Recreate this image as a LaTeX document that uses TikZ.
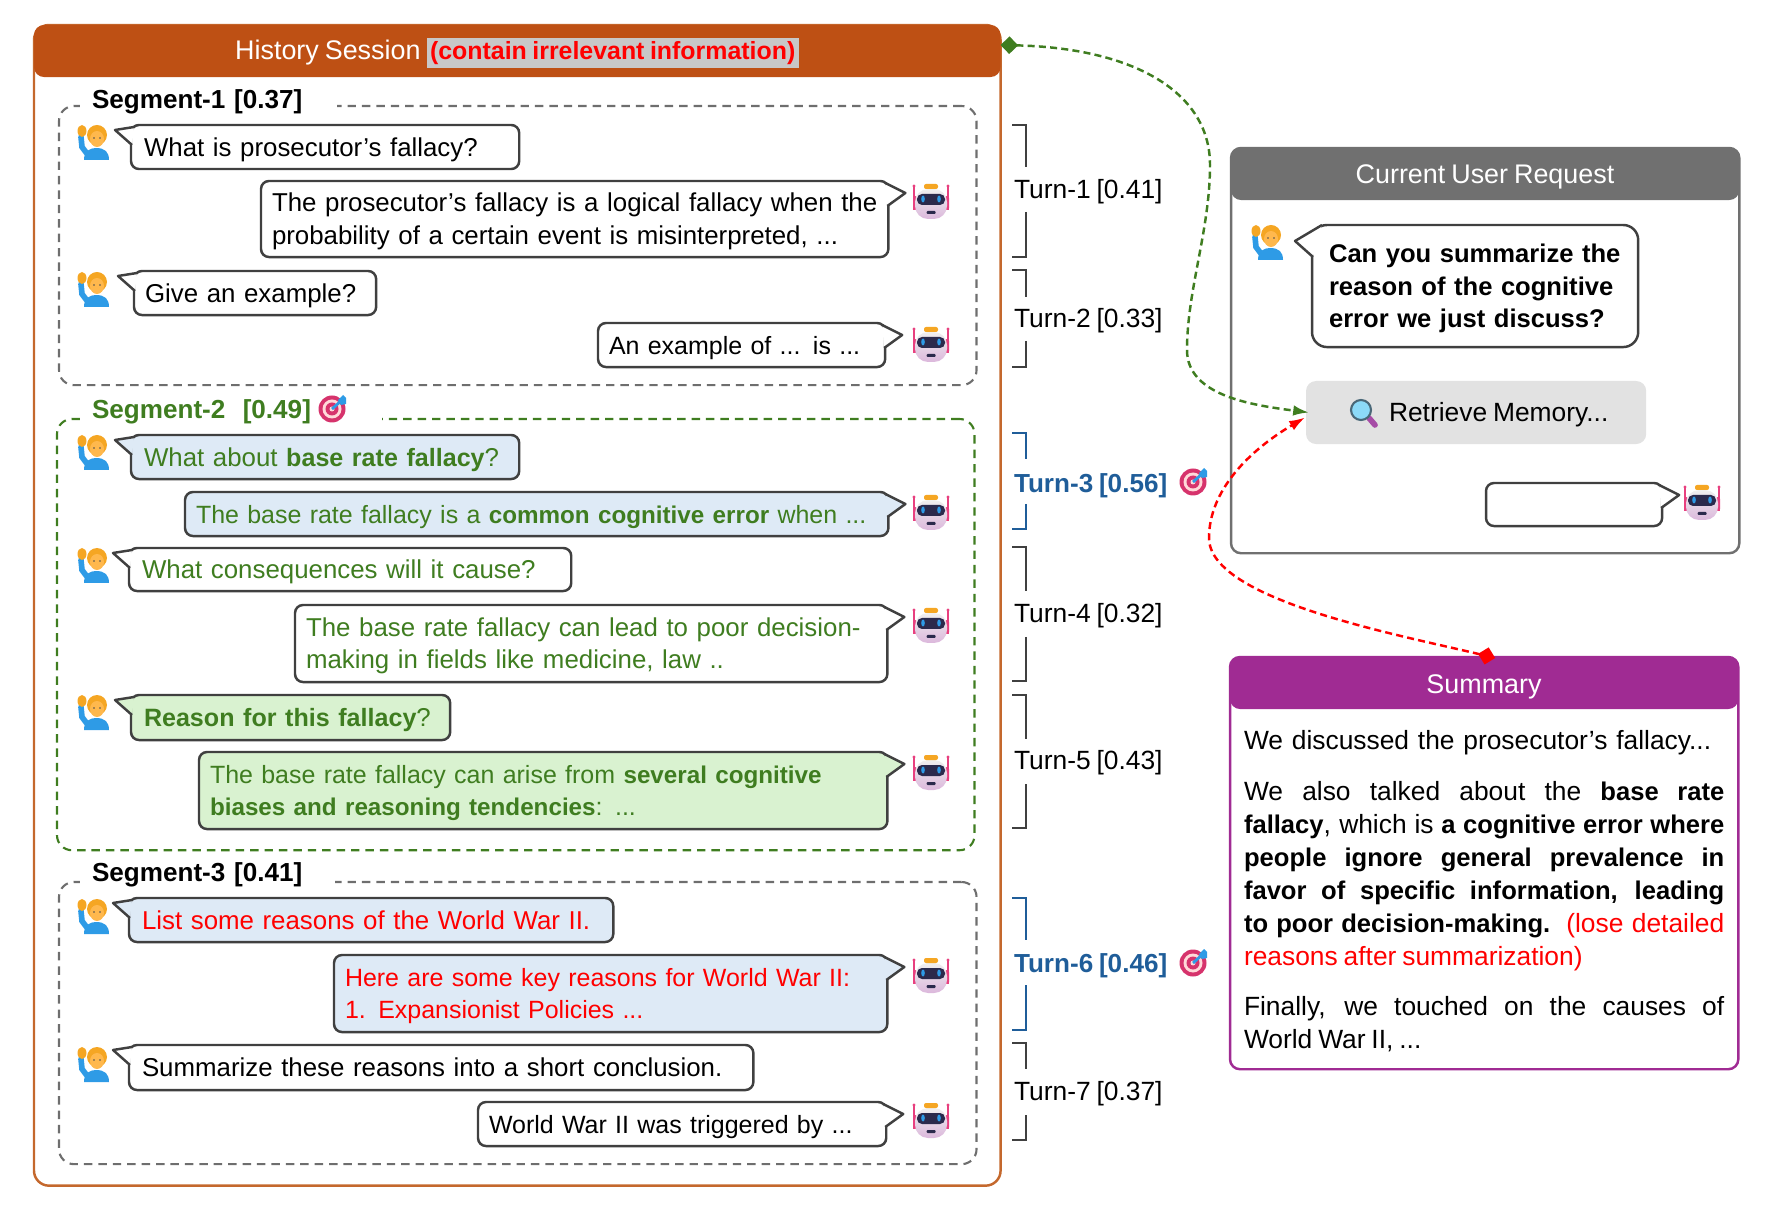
\documentclass[tikz,border=0pt]{standalone}
\usepackage{fontspec}
\setmainfont{Liberation Sans}[WordSpace=0.8,BoldFeatures={Scale=0.97}]
\usepackage{xcolor}
\usetikzlibrary{calc,arrows.meta,positioning}

\definecolor{histbrown}{HTML}{BE5014}
\definecolor{histline}{HTML}{C4682D}
\definecolor{seggray}{HTML}{6E6E6E}
\definecolor{seggreen}{HTML}{3F7D20}
\definecolor{chatline}{HTML}{404040}
\definecolor{chatblue}{HTML}{DEEAF6}
\definecolor{chatgreen}{HTML}{D9F2D0}
\definecolor{turnblue}{HTML}{1F5D99}
\definecolor{headgray}{HTML}{707070}
\definecolor{sumpurple}{HTML}{A02B93}
\definecolor{hlgray}{HTML}{C8C8C8}
\definecolor{retrgray}{HTML}{E2E2E2}
\definecolor{shirtblue}{HTML}{2E9BE6}
\definecolor{hairorange}{HTML}{F5A623}
\definecolor{skinorange}{HTML}{FFB84D}
\definecolor{robotpink}{HTML}{E8407F}
\definecolor{robotnavy}{HTML}{2B2A4C}
\definecolor{targetpink}{HTML}{D6336C}

\newcommand{\basefont}{\fontsize{7.35}{9.35}\selectfont}
\newcommand{\tightfont}{\fontsize{7.1}{9.35}\selectfont}
\newcommand{\labelfont}{\fontsize{7.5}{9.35}\selectfont}
\newcommand{\titlefont}{\fontsize{7.65}{9.35}\selectfont}

\tikzset{
  userpic/.pic={
    \fill[shirtblue] (-9,18) .. controls (-9,9) and (-3,6) .. (3,6) .. controls (12,6) and (16,10) .. (16,18) -- cycle;
    \draw[draw=shirtblue,line width=1.6pt,line cap=round] (-12,-5) -- (-11,5) -- (-5,13);
    \fill[hairorange] (-11,-11) ellipse (4.5 and 6);
    \fill[hairorange] (4,-7) circle (10);
    \fill[skinorange] (4,-3) ellipse (7 and 8);
    \fill[black!70] (1,-4) circle (0.9) (7,-4) circle (0.9);
  },
  robotpic/.pic={
    \draw[robotpink,line width=0.5pt] (-17,-16) -- (-17,8) (17,-16) -- (17,8);
    \fill[robotpink] (-17,-16) circle (1.7) (17,-16) circle (1.7);
    \fill[robotpink,rounded corners=0.02cm] (-18,-6) rectangle (-14,8) (14,-6) rectangle (18,8);
    \shade[top color=black!6,bottom color=violet!28,rounded corners=0.13cm] (-16,-13) rectangle (16,17);
    \fill[hairorange,rounded corners=0.02cm] (-7,-18) rectangle (7,-13);
    \fill[robotnavy,rounded corners=0.05cm] (-14,-8) rectangle (14,3);
    \fill[shirtblue] (-8,-3) ellipse (1.8 and 3.5) (8,-3) ellipse (1.8 and 3.5);
    \fill[robotnavy,rounded corners=0.01cm] (-4.5,9) rectangle (4.5,12);
  },
  targetpic/.pic={
    \fill[targetpink] (0,0) circle (13.5);
    \fill[pink!60] (0,0) circle (9.5);
    \fill[targetpink] (0,0) circle (6.5);
    \fill[pink!60] (0,0) circle (2.5);
    \draw[shirtblue,line width=0.8pt] (0,0) -- (10,-9);
    \fill[shirtblue] (6,-9) -- (11,-14) -- (14,-11) -- (14,-5) -- (9,-4) -- cycle;
  },
  lenspic/.pic={
    \draw[violet!70,line width=1.6pt,line cap=round] (6,6) -- (12,13);
    \draw[draw=black!60!cyan,fill=cyan!45,line width=0.6pt] (-2,-2) circle (10);
  }
}
\newcommand{\usertail}[2]{\filldraw[draw=chatline,line width=0.7pt,line join=round,fill=#2] ($(#1.north west)+(1,20)$) -- ($(#1.north west)+(-16,5)$) -- ($(#1.north west)+(3,2)$);}
\newcommand{\bottail}[2]{\filldraw[draw=chatline,line width=0.7pt,line join=round,fill=#2] ($(#1.north east)+(-3,2)$) -- ($(#1.north east)+(17,12)$) -- ($(#1.north east)+(-1,25)$);}

\begin{document}
\begin{tikzpicture}[x=0.01cm,y=-0.01cm,
    every node/.style={font=\basefont,outer sep=0pt,inner sep=0pt}]
  \tikzstyle{chat} = [draw=chatline,line width=0.7pt,fill=white,rounded corners=0.08cm,anchor=north west,inner xsep=0.11cm,align=left,
    execute at begin node={\rule{0pt}{0.235cm}},execute at end node={\rule[-0.055cm]{0pt}{0pt}}]
  \tikzstyle{userchat} = [chat,inner xsep=0.13cm]
  \tikzstyle{segbox} = [line width=0.6pt,dash pattern=on 2.4pt off 1.7pt,rounded corners=0.15cm,anchor=north west]
  \tikzstyle{segtitle} = [fill=white,anchor=west,minimum height=0.3cm,inner xsep=0.12cm,align=left,font=\titlefont\bfseries]
  \tikzstyle{headbar} = [rounded corners=0.1cm,anchor=north west,text=white]
  \tikzstyle{bracket} = [draw=chatline,line width=0.6pt]
  \tikzstyle{turnlabel} = [anchor=west,font=\labelfont]
  \tikzstyle{turnbest} = [anchor=west,text=turnblue,font=\titlefont\bfseries]
  \tikzstyle{sumtext} = [anchor=west,text width=4.8cm,font=\labelfont]

  \useasboundingbox (0,0) rectangle (1776,1216);

  % history panel
  \node[draw=histline,line width=0.7pt,rounded corners=0.15cm,anchor=north west,minimum width=9.66cm,minimum height=11.6cm] (History) at (34,25) {};
  \node[headbar,fill=histbrown,minimum width=9.66cm,minimum height=0.52cm] (History_head) at (34,25) {};
  \node[text=white,font=\titlefont] (History_text) at (517,53) {History Session \setlength{\fboxsep}{1pt}\colorbox{hlgray}{\fontsize{7.3}{9.35}\selectfont\textcolor{red}{\textbf{(contain irrelevant information)}}}};

  % segments
  \node[segbox,draw=seggray,minimum width=9.17cm,minimum height=2.79cm] (Seg_1) at (59,106) {};
  \node[segbox,draw=seggreen,minimum width=9.17cm,minimum height=4.31cm] (Seg_2) at (57,419) {};
  \node[segbox,draw=seggray,minimum width=9.17cm,minimum height=2.82cm] (Seg_3) at (59,882) {};
  \node[segtitle,text width=2.33cm] (Seg_title_1) at (80,102) {Segment-1 [0.37]};
  \node[segtitle,text width=2.78cm,text=seggreen] (Seg_title_2) at (80,412) {Segment-2\ \ [0.49]};
  \node[segtitle,text width=2.31cm] (Seg_title_3) at (80,875) {Segment-3 [0.41]};
  \pic at (332,409) {targetpic};

  % segment 1
  \node[userchat,text width=3.62cm,minimum height=0.44cm] (User_1) at (131,125) {\mbox{What is prosecutor’s fallacy?}};
  \node[chat,text width=6.05cm,minimum height=0.76cm] (Bot_1) at (261,181) {\mbox{The prosecutor’s fallacy is a logical fallacy when the}\\\mbox{probability of a certain event is misinterpreted, ...}};
  \node[chat,text width=2.2cm,minimum height=0.44cm] (User_2) at (134,271) {\mbox{Give an example?}};
  \node[chat,font=\tightfont,text width=2.65cm,minimum height=0.44cm] (Bot_2) at (598,323) {\mbox{An example of ... is ...}};

  % segment 2
  \node[userchat,fill=chatblue,text=seggreen,text width=3.62cm,minimum height=0.44cm] (User_3) at (131,435) {\mbox{What about \textbf{base rate fallacy}?}};
  \node[chat,font=\tightfont,fill=chatblue,text=seggreen,text width=6.81cm,minimum height=0.44cm] (Bot_3) at (185,492) {\mbox{The base rate fallacy is a \textbf{common cognitive error} when ...}};
  \node[userchat,text=seggreen,text width=4.16cm,minimum height=0.43cm] (User_4) at (129,548) {\mbox{What consequences will it cause?}};
  \node[chat,text=seggreen,text width=5.7cm,minimum height=0.77cm] (Bot_4) at (295,605) {\mbox{The base rate fallacy can lead to poor decision-}\\\mbox{making in fields like medicine, law ..}};
  \node[userchat,fill=chatgreen,text=seggreen,text width=2.93cm,minimum height=0.45cm] (User_5) at (131,695) {\mbox{\textbf{Reason for this fallacy}?}};
  \node[chat,font=\tightfont,fill=chatgreen,text=seggreen,text width=6.66cm,minimum height=0.77cm] (Bot_5) at (199,752) {\mbox{The base rate fallacy can arise from \textbf{several cognitive}}\\\mbox{\textbf{biases and reasoning tendencies}: ...}};

  % segment 3
  \node[userchat,fill=chatblue,text=red,text width=4.58cm,minimum height=0.44cm] (User_6) at (129,898) {\mbox{List some reasons of the World War II.}};
  \node[chat,font=\tightfont,fill=chatblue,text=red,text width=5.31cm,minimum height=0.77cm] (Bot_6) at (334,955) {\mbox{Here are some key reasons for World War II:}\\\mbox{1. Expansionist Policies ...}};
  \node[userchat,text width=5.98cm,minimum height=0.45cm] (User_7) at (129,1045) {\mbox{Summarize these reasons into a short conclusion.}};
  \node[chat,font=\tightfont,text width=3.86cm,minimum height=0.44cm] (Bot_7) at (478,1102) {\mbox{World War II was triggered by ...}};

  \usertail{User_1}{white}
  \usertail{User_2}{white}
  \usertail{User_3}{chatblue}
  \usertail{User_4}{white}
  \usertail{User_5}{chatgreen}
  \usertail{User_6}{chatblue}
  \usertail{User_7}{white}
  \bottail{Bot_1}{white}
  \bottail{Bot_2}{white}
  \bottail{Bot_3}{chatblue}
  \bottail{Bot_4}{white}
  \bottail{Bot_5}{chatgreen}
  \bottail{Bot_6}{chatblue}
  \bottail{Bot_7}{white}

  \pic at (93,142) {userpic};
  \pic at (93,289) {userpic};
  \pic at (93,452) {userpic};
  \pic at (93,565) {userpic};
  \pic at (93,712) {userpic};
  \pic at (93,916) {userpic};
  \pic at (93,1064) {userpic};
  \pic at (931,202) {robotpic};
  \pic at (931,345) {robotpic};
  \pic at (931,513) {robotpic};
  \pic at (931,626) {robotpic};
  \pic at (931,773) {robotpic};
  \pic at (931,976) {robotpic};
  \pic at (931,1121) {robotpic};

  % turns
  \node[turnlabel] (Turn_1) at (1014,192) {Turn-1 [0.41]};
  \node[turnlabel] (Turn_2) at (1014,321) {Turn-2 [0.33]};
  \node[turnbest] (Turn_3) at (1014,486) {Turn-3 [0.56]};
  \node[turnlabel] (Turn_4) at (1014,616) {Turn-4 [0.32]};
  \node[turnlabel] (Turn_5) at (1014,763) {Turn-5 [0.43]};
  \node[turnbest] (Turn_6) at (1014,966) {Turn-6 [0.46]};
  \node[turnlabel] (Turn_7) at (1014,1094) {Turn-7 [0.37]};
  \pic at (1193,482) {targetpic};
  \pic at (1193,963) {targetpic};

  \draw[bracket] (1012,125) -- (1026,125) -- (1026,167) (1026,212) -- (1026,257) -- (1012,257);
  \draw[bracket] (1012,270) -- (1026,270) -- (1026,297) (1026,341) -- (1026,367) -- (1012,367);
  \draw[bracket,draw=turnblue] (1012,433) -- (1026,433) -- (1026,459) (1026,504) -- (1026,529) -- (1012,529);
  \draw[bracket] (1012,547) -- (1026,547) -- (1026,591) (1026,637) -- (1026,681) -- (1012,681);
  \draw[bracket] (1012,695) -- (1026,695) -- (1026,739) (1026,784) -- (1026,828) -- (1012,828);
  \draw[bracket,draw=turnblue] (1012,898) -- (1026,898) -- (1026,940) (1026,985) -- (1026,1030) -- (1012,1030);
  \draw[bracket] (1012,1043) -- (1026,1043) -- (1026,1069) (1026,1115) -- (1026,1140) -- (1012,1140);

  % current request
  \node[draw=headgray,line width=0.7pt,rounded corners=0.1cm,anchor=north west,minimum width=5.08cm,minimum height=4.05cm] (Request) at (1231,148) {};
  \node[headbar,fill=headgray,minimum width=5.08cm,minimum height=0.52cm] (Request_head) at (1231,148) {};
  \node[text=white,font=\titlefont] (Request_text) at (1485,177) {Current User Request};
  \node[chat,rounded corners=0.15cm,inner xsep=0.17cm,text width=2.92cm,minimum height=1.22cm,font=\labelfont\bfseries] (User_8) at (1312,225) {\mbox{Can you summarize the}\\\mbox{reason of the cognitive}\\\mbox{error we just discuss?}};
  \filldraw[draw=chatline,line width=0.7pt,line join=round,fill=white] ($(User_8.north west)+(1,32)$) -- ($(User_8.north west)+(-17,16)$) -- ($(User_8.north west)+(10,0)$);
  \pic at (1267,242) {userpic};
  \node[fill=retrgray,rounded corners=0.1cm,anchor=north west,minimum width=3.4cm,minimum height=0.63cm] (Retrieve) at (1306,381) {};
  \pic at (1363,412) {lenspic};
  \node[anchor=west,font=\labelfont] (Retrieve_text) at (1389,415) {Retrieve Memory...};
  \node[chat,minimum width=1.76cm,minimum height=0.43cm] (Bot_8) at (1486,483) {};
  \bottail{Bot_8}{white}
  \pic at (1702,503) {robotpic};

  % summary
  \node[draw=sumpurple,line width=0.7pt,rounded corners=0.1cm,anchor=north west,minimum width=5.08cm,minimum height=4.12cm] (Summary) at (1230,657) {};
  \node[headbar,fill=sumpurple,minimum width=5.08cm,minimum height=0.52cm] (Summary_head) at (1230,657) {};
  \node[text=white,font=\titlefont] (Summary_text) at (1484,687) {Summary};
  \node[sumtext,align=left] (Summary_1) at (1244,743) {We discussed the prosecutor’s fallacy...};
  \node[sumtext,align=justify] (Summary_2) at (1244,876) {We also talked about the \textbf{base rate}\linebreak \textbf{fallacy}, which is \textbf{a cognitive error where}\linebreak \textbf{people ignore general prevalence in}\linebreak \textbf{favor of specific information, leading}\linebreak \textbf{to poor decision-making.} \textcolor{red}{(lose detailed}\linebreak \textcolor{red}{reasons after summarization)}};
  \node[sumtext,align=justify] (Summary_3) at (1244,1024) {Finally, we touched on the causes of\linebreak World War II, ...};

  % links
  \draw[draw=seggreen,line width=0.7pt,dash pattern=on 2pt off 1.2pt,{Diamond[length=5pt,width=5pt]}-{Latex[length=4.5pt,width=3pt]}] ($(History_head.east)+(0,-6)$) .. controls (1130,48) and (1210,90) .. (1210,165) .. controls (1210,230) and (1187,290) .. (1187,350) .. controls (1187,395) and (1250,405) .. ($(Retrieve.west)+(3,0)$);
  \draw[draw=red,line width=0.7pt,dash pattern=on 2pt off 1.2pt,{Diamond[length=5pt,width=5pt]}-{Latex[length=4.5pt,width=3pt]}] ($(Summary_head.north)+(11,1)$) .. controls (1400,635) and (1209,600) .. (1209,538) .. controls (1209,490) and (1250,450) .. ($(Retrieve.west)+(-1,5)$);
\end{tikzpicture}
\end{document}
